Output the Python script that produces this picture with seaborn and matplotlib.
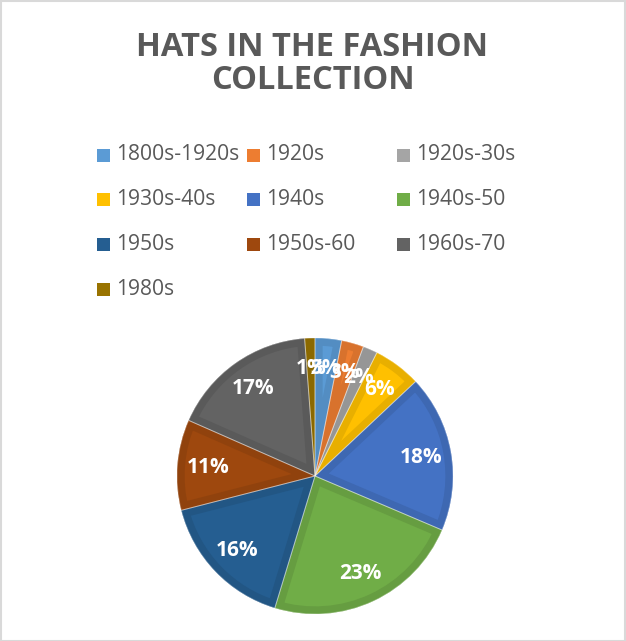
import matplotlib
matplotlib.use("Agg")
import matplotlib.pyplot as plt
import matplotlib.colors as mcolors
from matplotlib.patches import Rectangle, PathPatch
import seaborn as sns

categories = ["1800s-1920s", "1920s", "1920s-30s", "1930s-40s", "1940s",
              "1940s-50", "1950s", "1950s-60", "1960s-70", "1980s"]
shares = [3.1, 2.6, 1.7, 5.6, 18.4, 23.3, 16.3, 10.6, 17.2, 1.2]
hex_colors = ["#5B9BD5", "#ED7D31", "#A5A5A5", "#FFC000", "#4472C4",
              "#70AD47", "#255E91", "#9E480E", "#636363", "#997300"]
title_text = "HATS IN THE FASHION\nCOLLECTION"

sns.set_theme(style="white")
plt.rcParams['font.family'] = ['Open Sans', 'DejaVu Sans']

palette = sns.color_palette(hex_colors)
W, H = 626, 641
fig = plt.figure(figsize=(W / 100, H / 100), dpi=100)
fig.patch.set_facecolor("white")

# figure border
fig.add_artist(Rectangle((0.5 / W, 0.5 / H), 1 - 1.5 / W, 1 - 1.5 / H,
                         transform=fig.transFigure, fill=False,
                         edgecolor="#D9D9D9", linewidth=1.5))

# title
fig.text(0.5 * (135 + 490) / W, 1 - 64 / H, title_text, ha="center", va="center",
         fontsize=23.5, fontweight="bold", color="#595959", linespacing=1.0)

# legend (3 columns)
txt_color = "#595959"
for i, (cat, col) in enumerate(zip(categories, palette)):
    x0 = 97 + 150 * (i % 3)
    yc = 155 + 45 * (i // 3)
    fig.add_artist(Rectangle((x0 / W, 1 - (yc + 6.5) / H), 13 / W, 13 / H,
                             transform=fig.transFigure, facecolor=col,
                             edgecolor="none"))
    fig.text((x0 + 19) / W, 1 - yc / H, cat, ha="left", va="center",
             fontsize=15.2, color=txt_color)

# pie
cx, cy, r = 315, 476, 138
ax = fig.add_axes([(cx - r) / W, 1 - (cy + r) / H, 2 * r / W, 2 * r / H])
wedges, texts, autotexts = ax.pie(
    shares, colors=palette, startangle=90, counterclock=False,
    autopct="%1.0f%%", pctdistance=0.78,
    textprops=dict(color="white", fontsize=15, fontweight="bold"),
    wedgeprops=dict(linewidth=0))
ax.set_xlim(-1.0, 1.0)
ax.set_ylim(-1.0, 1.0)
ax.set_aspect("equal")
ax.axis("off")

# darker inner band along each slice's edge (stroke clipped to the slice)
for w, col in zip(wedges, palette):
    dark = tuple(c * 0.91 for c in mcolors.to_rgb(col))
    wpath = w.get_path()
    band = PathPatch(wpath, transform=ax.transData, facecolor="none",
                     edgecolor=dark, linewidth=11, zorder=w.get_zorder() + 0.1)
    ax.add_patch(band)
    band.set_clip_path(wpath, ax.transData)
    seam = PathPatch(wpath, transform=ax.transData, facecolor="none",
                     edgecolor=(1, 1, 1, 0.35), linewidth=0.7,
                     zorder=w.get_zorder() + 0.2)
    ax.add_patch(seam)
for t in autotexts:
    t.set_zorder(5)

fig.savefig("out.png", dpi=100, facecolor="white")
